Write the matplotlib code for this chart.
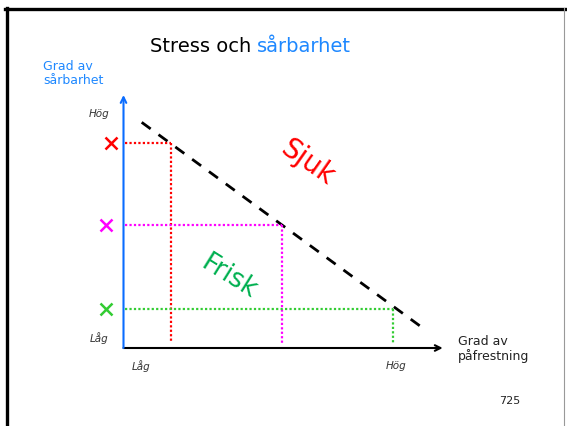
import matplotlib
matplotlib.use("Agg")
import matplotlib.pyplot as plt
from matplotlib.lines import Line2D

# ---- data (conceptual units: 0..10 on both axes) ----
person_colors = ["#FF0000", "#FF00FF", "#33CC33"]
vulnerability = [8.1, 4.85, 1.55]      # Grad av sårbarhet
stress_threshold = [1.5, 4.95, 8.45]   # Grad av påfrestning where illness begins
marker_x = [-0.4, -0.55, -0.55]
boundary_x = [0.57, 9.29]
boundary_y = [8.92, 0.87]
y_tick_labels = ["Låg", "Hög"]
x_tick_labels = ["Låg", "Hög"]

W, H = 567, 426
fig = plt.figure(figsize=(W / 100, H / 100), dpi=100)
fig.patch.set_facecolor("white")

def fx(px):
    return px / W

def fy(py):
    return (H - py) / H

# slide border
fig.add_artist(Line2D([fx(5), fx(567)], [fy(8.5), fy(8.5)], color="black", lw=2.4,
                      transform=fig.transFigure))
fig.add_artist(Line2D([fx(6.5), fx(6.5)], [fy(8), fy(426)], color="black", lw=2.4,
                      transform=fig.transFigure))
fig.add_artist(Line2D([fx(563.8), fx(563.8)], [fy(8), fy(426)], color="#999999", lw=0.8,
                      transform=fig.transFigure))

# axes: origin at pixel (123.5, 348), x to 442.7, y to 95
left, bottom = fx(123.5), fy(348)
ax = fig.add_axes([left, bottom, fx(442.7) - left, fy(95) - bottom])
ax.set_xlim(0, 10)
ax.set_ylim(0, 10)
ax.axis("off")

# axis arrows
ax.annotate("", xy=(10, 0), xytext=(0, 0),
            arrowprops=dict(arrowstyle="->", color="black", lw=1.5,
                            mutation_scale=10, shrinkA=0, shrinkB=0))
ax.annotate("", xy=(0, 10), xytext=(0, 0),
            arrowprops=dict(arrowstyle="->", color="#0A6CFF", lw=1.5,
                            mutation_scale=10, shrinkA=0, shrinkB=0))

# boundary dashed line
ax.plot(boundary_x, boundary_y, color="black", lw=2.0, linestyle=(0, (4, 3.5)))

# dotted guides and X markers
for c, v, s, mx in zip(person_colors, vulnerability, stress_threshold, marker_x):
    ax.plot([0.05, s], [v, v], color=c, lw=1.6, linestyle=(0, (1, 1)))
    ax.plot([s, s], [v, 0.2], color=c, lw=1.6, linestyle=(0, (1, 1)))
    ax.plot([mx], [v], marker="x", color=c, markersize=9, mew=1.8, clip_on=False)

# region labels
ax.text(5.77, 7.35, "Sjuk", color="#FF0000", fontsize=20, rotation=-35,
        ha="center", va="center")
ax.text(3.3, 2.8, "Frisk", color="#00B050", fontsize=19, rotation=-32,
        ha="center", va="center")

# axis level labels
lab = dict(fontsize=7.5, style="italic", color="#333333", ha="center", va="center")
fig.text(fx(99), fy(338), y_tick_labels[0], **lab)
fig.text(fx(99), fy(114), y_tick_labels[1], **lab)
fig.text(fx(141), fy(366), x_tick_labels[0], **lab)
fig.text(fx(396), fy(366), x_tick_labels[1], **lab)

# axis titles
fig.text(fx(458), fy(335), "Grad av\npåfrestning", fontsize=9, color="#222222",
         ha="left", va="top", linespacing=1.1)
fig.text(fx(43), fy(60), "Grad av\nsårbarhet", fontsize=9, color="#1E88FF",
         ha="left", va="top", linespacing=1.1)

# title
fig.text(fx(251), fy(46), "Stress och", fontsize=14, color="black", ha="right", va="center")
fig.text(fx(257), fy(46), "sårbarhet", fontsize=14, color="#1E88FF", ha="left", va="center")

# page number
fig.text(fx(510), fy(401), "725", fontsize=8, color="#222222", ha="center", va="center")

fig.savefig("out.png", dpi=100)
